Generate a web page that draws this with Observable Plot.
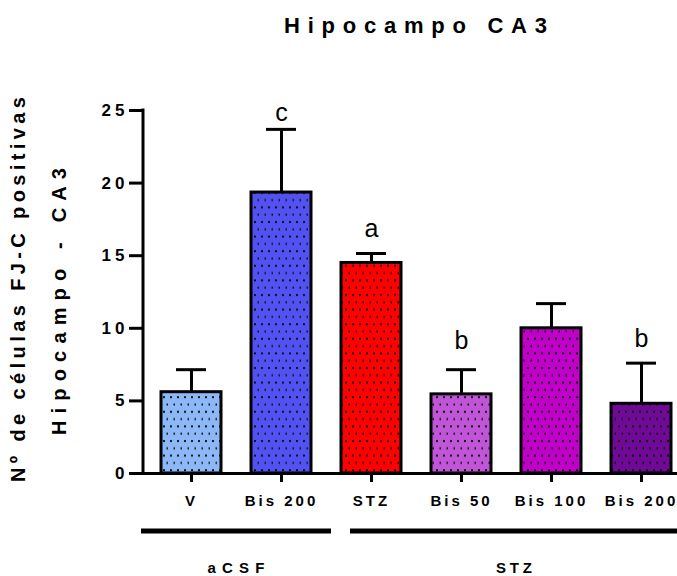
<!DOCTYPE html>
<html><head><meta charset="utf-8">
<script src="https://cdn.jsdelivr.net/npm/d3@7"></script>
<script src="https://cdn.jsdelivr.net/npm/@observablehq/plot@0.6"></script>
<style>
html,body{margin:0;padding:0;background:#fff;overflow:hidden;}
#chart svg{display:block;font-family:"Liberation Sans",Arial,sans-serif;}
#chart g[aria-label="x-axis tick label"] text{letter-spacing:3px;}
#chart g[aria-label="y-axis tick label"] text{letter-spacing:4px;}
</style></head><body><div id="chart"></div>
<script>
// ---- data ----
const categories = ["V","Bis 200","STZ","Bis 50","Bis 100","Bis 200"];
const groups     = ["aCSF","aCSF","STZ","STZ","STZ","STZ"];
const means      = [5.6, 19.35, 14.5, 5.45, 10.0, 4.8];
const sems       = [1.55, 4.35, 0.65, 1.7, 1.7, 2.8];
const letters    = ["","c","a","b","","b"];
const letterY    = [null, 24.3, 16.3, 8.6, null, 8.7];   // baseline of the significance letters (data units)
const colors     = ["#8cb8f8","#5252f2","#ff0000","#c055d8","#c000c8","#6e0a96"];
const yTicks     = [0,5,10,15,20,25];
const groupNames = ["aCSF","STZ"];
const title      = "Hipocampo CA3";
const yTitle     = ["Nº de células FJ-C positivas","Hipocampo - CA3"];

const keys = categories.map((c,i)=>groups[i]+"|"+c);
const data = keys.map((k,i)=>({key:k, cat:categories[i], group:groups[i], mean:means[i], top:means[i]+sems[i], letter:letters[i], ly:letterY[i]}));

const W=677, H=576, ML=143, MT=110, MB=103, XR=688;
const font = '"Liberation Sans",Arial,sans-serif';

const chart = Plot.plot({
  width:W, height:H, marginLeft:ML, marginTop:MT, marginBottom:MB, marginRight:0,
  style:{fontFamily:font, background:"white", color:"black"},
  x:{type:"band", domain:keys, range:[ML, XR], paddingInner:0.338, paddingOuter:0.177, align:0.5},
  y:{domain:[0,25]},
  color:{type:"ordinal", domain:keys, range:colors},
  marks:[
    Plot.ruleX(data,{x:"key", y1:"mean", y2:"top", strokeWidth:3, stroke:"black"}),
    Plot.tickY(data,{x:"key", y:"top", strokeWidth:3, stroke:"black", insetLeft:15, insetRight:15}),
    Plot.barY(data,{x:"key", y:"mean", fill:"key"}),
    Plot.barY(data,{x:"key", y:"mean", fill:"url(#dots)", stroke:"black", strokeWidth:3}),
    Plot.ruleY([0],{strokeWidth:3, stroke:"black"}),
    Plot.axisY({ticks:yTicks, tickSize:14, tickPadding:1, strokeWidth:3, stroke:"black", fill:"black", fontSize:17, fontWeight:"bold", label:null, tickFormat:d=>String(d)}),
    Plot.axisX({tickSize:9, tickPadding:13, strokeWidth:3, stroke:"black", fill:"black", fontSize:15, fontWeight:"bold", label:null, tickFormat:k=>k.split("|")[1]}),
    Plot.text(data.filter(d=>d.letter),{x:"key", y:"ly", text:"letter", lineAnchor:"bottom", fontSize:25, fill:"black"})
  ]
});
document.getElementById("chart").appendChild(chart);

// ---- decorations using Plot's scales ----
const svg = d3.select(chart);
const xs = chart.scale("x"), ys = chart.scale("y");
const defs = svg.insert("defs", ":first-child");
const pat = defs.append("pattern").attr("id","dots").attr("patternUnits","userSpaceOnUse")
  .attr("width",7).attr("height",14.6);
pat.append("rect").attr("x",2).attr("y",2).attr("width",2).attr("height",2).attr("fill","#111");
pat.append("rect").attr("x",5.5).attr("y",9.3).attr("width",2).attr("height",2).attr("fill","#111");

// y axis line
svg.append("line").attr("x1",ML).attr("x2",ML)
  .attr("y1",ys.apply(25)-1.5).attr("y2",ys.apply(0)+1.5)
  .attr("stroke","black").attr("stroke-width",3);

// group lines and labels
const groupPad = {aCSF:[-20,20], STZ:[9,7]};
const groupLen = {aCSF:57, STZ:36};
const y0 = ys.apply(0);
groupNames.forEach(g=>{
  const ks = keys.filter((k,i)=>groups[i]===g);
  const a = xs.apply(ks[0]) + groupPad[g][0];
  const b = xs.apply(ks[ks.length-1]) + xs.bandwidth + groupPad[g][1];
  svg.append("line").attr("x1",a).attr("x2",b).attr("y1",y0+58).attr("y2",y0+58)
    .attr("stroke","black").attr("stroke-width",5);
  svg.append("text").attr("x",(a+b)/2).attr("y",y0+100).attr("text-anchor","middle")
    .attr("font-size",15).attr("font-weight","bold").attr("font-family",font)
    .attr("textLength",groupLen[g]).attr("lengthAdjust","spacing").text(g);
});

// title
svg.append("text").attr("x",(ML+XR)/2).attr("y",33).attr("text-anchor","middle")
  .attr("font-size",22).attr("font-weight","bold").attr("font-family",font)
  .attr("textLength",263).attr("lengthAdjust","spacing").text(title);

// y title (two lines)
const yMid = (ys.apply(0)+ys.apply(25))/2;
svg.append("text").attr("transform",`translate(25,${yMid-2}) rotate(-90)`).attr("text-anchor","middle")
  .attr("font-size",20).attr("font-weight","bold").attr("font-family",font)
  .attr("textLength",385).attr("lengthAdjust","spacing").text(yTitle[0]);
svg.append("text").attr("transform",`translate(66,${yMid+10}) rotate(-90)`).attr("text-anchor","middle")
  .attr("font-size",20).attr("font-weight","bold").attr("font-family",font)
  .attr("textLength",267).attr("lengthAdjust","spacing").text(yTitle[1]);
</script></body></html>
